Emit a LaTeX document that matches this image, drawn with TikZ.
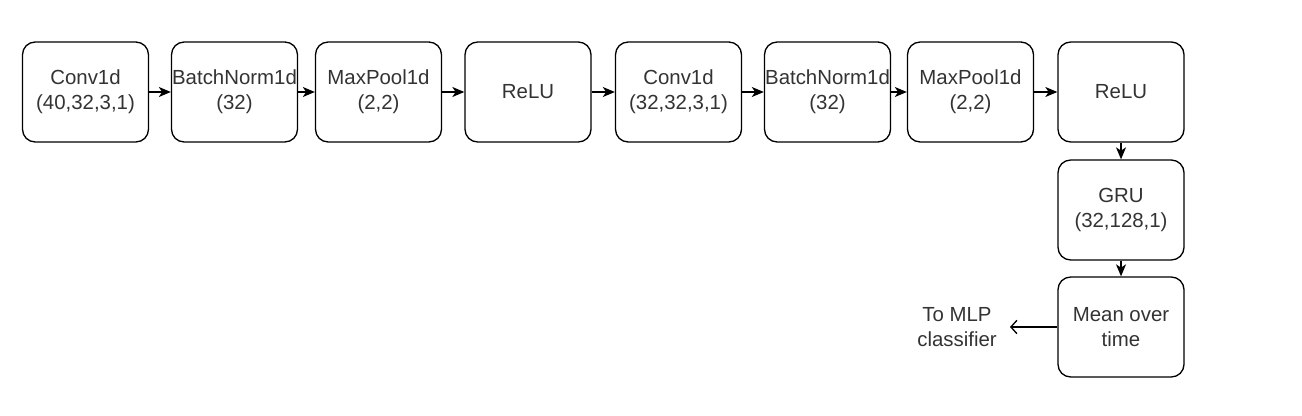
\documentclass[tikz,border=0pt]{standalone}
\usepackage{fontspec}
\setmainfont{Liberation Sans}
\usetikzlibrary{arrows.meta}
\definecolor{txt}{HTML}{333333}
\tikzset{
  blk/.style={draw=black, line width=1pt, rounded corners=9.5pt, fill=white,
    minimum width=94.5pt, minimum height=75pt, inner sep=0pt, align=center,
    text=txt, font=\fontsize{15.3}{18.75}\selectfont},
  lbl/.style={inner sep=0pt, align=center, text=txt, font=\fontsize{15.3}{18.75}\selectfont},
  conn/.style={draw=black, line width=1pt, -{Stealth[length=9pt,width=7.5pt,inset=2.5pt]}},
  openconn/.style={draw=black, line width=1pt, -{Straight Barb[length=4.5pt,width=10pt]}}
}
\begin{document}
\begin{tikzpicture}[x=0.75pt,y=-0.75pt]
\useasboundingbox (0,0) rectangle (1302,416);
\node[blk] (c1) at (85.5,92) {Conv1d\\(40,32,3,1)};
\node[blk] (b1) at (234.5,92) {BatchNorm1d\\(32)};
\node[blk] (m1) at (378.5,92) {MaxPool1d\\(2,2)};
\node[blk] (r1) at (528,92) {ReLU};
\node[blk] (c2) at (678.5,92) {Conv1d\\(32,32,3,1)};
\node[blk] (b2) at (827.5,92) {BatchNorm1d\\(32)};
\node[blk] (m2) at (970.5,92) {MaxPool1d\\(2,2)};
\node[blk] (r2) at (1121,92) {ReLU};
\node[blk] (gru) at (1121,210) {GRU\\(32,128,1)};
\node[blk] (mean) at (1121,327) {Mean over\\time};
\node[lbl] (mlp) at (957,327) {To MLP\\classifier};
\coordinate (mlpend) at (1010,327);
\draw[conn] (c1.east) -- (b1.west);
\draw[conn] (b1.east) -- (m1.west);
\draw[conn] (m1.east) -- (r1.west);
\draw[conn] (r1.east) -- (c2.west);
\draw[conn] (c2.east) -- (b2.west);
\draw[conn] (b2.east) -- (m2.west);
\draw[conn] (m2.east) -- (r2.west);
\draw[conn] (r2.south) -- (gru.north);
\draw[conn] (gru.south) -- (mean.north);
\draw[openconn] (mean.west) -- (mlpend);
\end{tikzpicture}
\end{document}
